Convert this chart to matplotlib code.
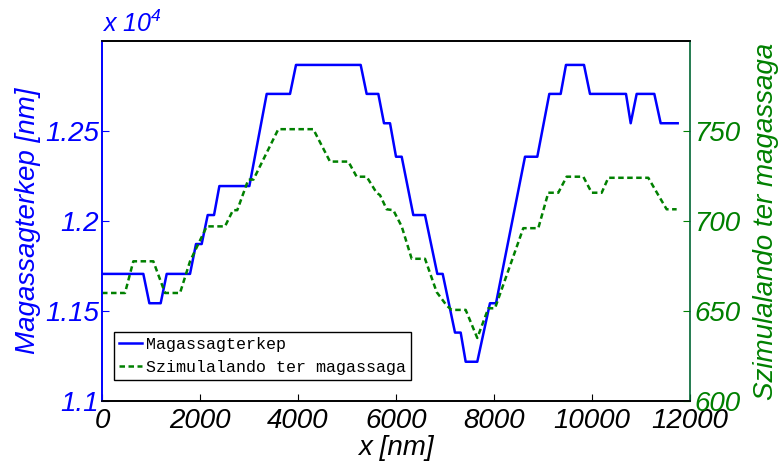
import matplotlib
matplotlib.use("Agg")
import matplotlib.pyplot as plt
from matplotlib.ticker import FixedLocator, FixedFormatter

plt.rcParams["font.family"] = ["Liberation Sans", "DejaVu Sans"]
plt.rcParams["mathtext.fontset"] = "custom"
plt.rcParams["mathtext.rm"] = "Liberation Sans:italic"
plt.rcParams["mathtext.it"] = "Liberation Sans:italic"

# measured height map [nm]
height_x = [0, 843, 966, 1197, 1320, 1796, 1918, 2034, 2157, 2286, 2395, 3007,
            3361, 3837, 3959, 5279, 5401, 5639, 5755, 5878, 6000, 6116, 6353,
            6592, 6843, 6953, 7204, 7320, 7422, 7659, 7918, 8041, 8633, 8884,
            9129, 9361, 9469, 9837, 9959, 10694, 10790, 10912, 11272, 11402, 11749]
height_y = [11706, 11706, 11543, 11543, 11706, 11706, 11872, 11872, 12033, 12033,
            12194, 12194, 12706, 12706, 12867, 12867, 12706, 12706, 12543, 12543,
            12357, 12357, 12033, 12033, 11706, 11706, 11380, 11380, 11218, 11218,
            11543, 11543, 12357, 12357, 12706, 12706, 12867, 12867, 12706, 12706,
            12543, 12706, 12706, 12543, 12543]

# terrain height used for the simulation
sim_x = [0, 469, 639, 1047, 1286, 1592, 1796, 2137, 2510, 2673, 2760, 2986, 3090,
         3598, 4312, 4653, 5027, 5197, 5401, 5605, 5673, 5810, 5945, 6116, 6320,
         6592, 6830, 7035, 7137, 7422, 7659, 7884, 8020, 8598, 8904, 9108, 9312,
         9483, 9823, 9994, 10198, 10333, 11149, 11353, 11524, 11728]
sim_y = [660, 660, 677.6, 677.6, 660, 660, 677.6, 697, 697, 706, 706, 723, 723,
         751, 751, 733, 733, 724.6, 724.6, 715.6, 714.4, 706.5, 706, 697, 679,
         679, 660.5, 653, 650.6, 650.6, 635, 651.5, 651.5, 696, 696, 715.7, 715.7,
         724.6, 724.6, 715.7, 715.7, 724, 724, 714.4, 706.5, 706.5]

x_ticks = [0, 2000, 4000, 6000, 8000, 10000, 12000]
left_ticks = [11000, 11500, 12000, 12500]
left_labels = ["1.1", "1.15", "1.2", "1.25"]
right_ticks = [600, 650, 700, 750]

BLUE = "#0000ff"
GREEN = "#008000"
FS = 20

fig = plt.figure(figsize=(7.83, 4.61), dpi=100)
ax = fig.add_subplot(111)
fig.subplots_adjust(left=0.1303, right=0.8812, bottom=0.1302, top=0.9111)
ax2 = ax.twinx()

l1, = ax.plot(height_x, height_y, color=BLUE, lw=1.8, label="Magassagterkep")
l2, = ax2.plot(sim_x, sim_y, color=GREEN, lw=1.8, linestyle=(0, (2.2, 1.4)),
               label="Szimulalando ter magassaga")

ax.set_xlim(0, 12000)
ax.set_ylim(11000, 13000)
ax2.set_ylim(600, 800)

ax.xaxis.set_major_locator(FixedLocator(x_ticks))
ax.yaxis.set_major_locator(FixedLocator(left_ticks))
ax.yaxis.set_major_formatter(FixedFormatter(left_labels))
ax2.yaxis.set_major_locator(FixedLocator(right_ticks))

ax.tick_params(axis="x", direction="in", length=5, labelsize=FS, pad=5, colors="black")
ax.tick_params(axis="y", direction="in", length=5, labelsize=FS, pad=2,
               colors=BLUE, right=False)
ax2.tick_params(axis="y", direction="in", length=5, labelsize=FS, pad=3,
                colors=GREEN)
for lab in ax.get_xticklabels() + ax.get_yticklabels() + ax2.get_yticklabels():
    lab.set_fontstyle("italic")

ax.spines["left"].set_color(BLUE)
ax2.spines["left"].set_color(BLUE)
ax2.spines["right"].set_color("#006633")
ax.spines["right"].set_visible(False)
for a in (ax, ax2):
    for s in a.spines.values():
        s.set_linewidth(1.2)

ax.set_xlabel("x [nm]", fontsize=FS, fontstyle="italic", labelpad=1)
ax.set_ylabel("Magassagterkep [nm]", fontsize=FS, fontstyle="italic",
              color=BLUE, labelpad=3)
ax2.set_ylabel("Szimulalando ter magassaga", fontsize=FS, fontstyle="italic",
               color=GREEN, labelpad=9)

ax.text(0.0, 1.01, "x 10$^{4}$", transform=ax.transAxes, fontsize=18,
        fontstyle="italic", color=BLUE, ha="left", va="bottom")

leg = ax2.legend(handles=[l1, l2], loc="lower left",
                 bbox_to_anchor=(0.0204, 0.058), borderaxespad=0,
                 prop={"family": "Liberation Mono", "size": 12},
                 handlelength=1.4, handletextpad=0.2, borderpad=0.3,
                 labelspacing=0.5, fancybox=False, framealpha=1)
leg.get_frame().set_edgecolor("black")
leg.get_frame().set_linewidth(1.0)

fig.savefig("out.png", dpi=100)
